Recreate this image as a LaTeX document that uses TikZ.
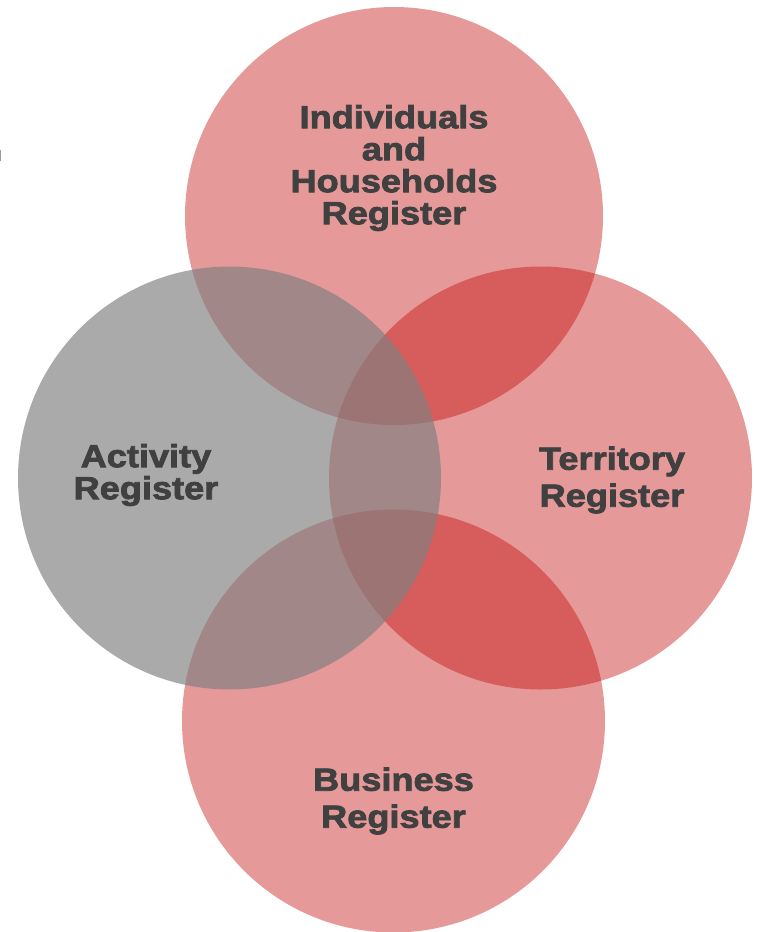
\documentclass[tikz,border=0pt]{standalone}
\usepackage{fontspec}
\usetikzlibrary{positioning}
\newfontfamily\regfont{Liberation Sans}[BoldFeatures={FakeStretch=1.13,FakeBold=2.4}]
\definecolor{regred}{RGB}{192,0,0}
\definecolor{reggrey}{RGB}{128,128,128}
\definecolor{textgrey}{RGB}{64,64,64}
\tikzstyle{reg}=[circle, inner sep=0pt, outer sep=0pt, minimum size=423pt]
\tikzstyle{redreg}=[reg, fill=regred, fill opacity=0.4]
\tikzstyle{greyreg}=[reg, fill=reggrey, fill opacity=0.67]
\tikzstyle{regname}=[text=textgrey, align=center, inner sep=0pt, font=\regfont\bfseries\fontsize{32}{32}\selectfont]

\begin{document}
\begin{tikzpicture}[x=1pt, y=-1pt]
  \useasboundingbox (0,0) rectangle (757,932);
  \node [redreg, minimum size=418pt] (ind) at (394,216) {};
  \node [redreg] (ter) at (540.5,478) {};
  \node [redreg] (bus) at (393.5,721) {};
  \node [greyreg] (act) at (229.5,478) {};
  \node [regname] (indname) at ([yshift=48pt]ind.center) {Individuals\\and\\Households\\Register};
  \node [regname] (actname) at ([xshift=-83.5pt,yshift=3pt]act.center) {Activity\\Register};
  \node [regname] (tername) at ([xshift=71.5pt,yshift=-2pt]ter.center) {Territory\\[5pt]Register};
  \node [regname] (busname) at ([yshift=-80pt]bus.center) {Business\\[5pt]Register};
  \draw [reggrey!80, line width=1pt] (0.4,150) -- (0.4,161);
\end{tikzpicture}
\end{document}
